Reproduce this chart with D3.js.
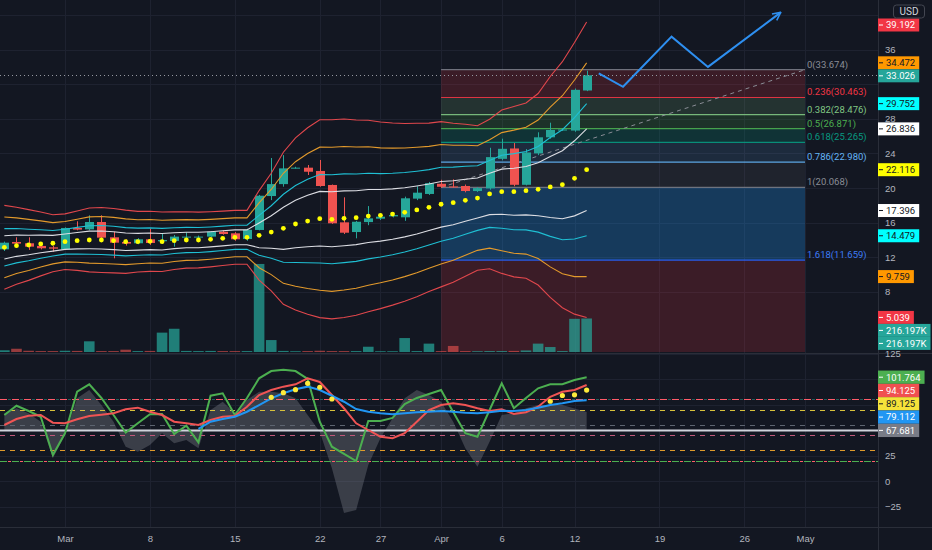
<!doctype html>
<html lang="en">
<head>
<meta charset="utf-8">
<style>
body { margin: 0; background: #131722; }
svg { display: block; font-family: Roboto, "Liberation Sans", sans-serif; }
.tick text { fill: #b2b5be; font-size: 9.5px; }
</style>
</head>
<body>
<svg id="chart" width="932" height="550"></svg>
<script src="https://d3js.org/d3.v7.min.js"></script>
<script>
// ---- data ----
const firstDay = "2021-02-24", lastDay = "2021-04-13";

const open  = [12.91,13.76,13.61,13.30,13.14,12.91,15.38,15.22,16.07,14.30,13.76,13.61,14.07,13.84,13.88,14.26,14.30,14.38,14.95,14.76,14.10,15.15,19.07,20.45,22.30,22.35,21.97,20.35,16.03,14.91,16.06,16.45,16.72,16.61,18.77,19.31,20.49,20.18,20.23,19.65,19.95,23.37,24.57,20.37,24.00,25.86,26.71,26.64,31.27];
const high  = [13.80,14.30,14.30,13.49,13.30,15.45,16.15,16.84,16.84,14.95,14.07,14.20,15.30,14.76,14.57,14.88,14.50,15.00,15.10,14.90,15.30,19.20,23.47,23.80,22.45,22.66,23.24,20.40,18.92,16.20,17.91,17.00,17.00,19.00,20.20,20.70,20.95,21.00,20.40,20.10,24.65,25.70,25.20,24.50,26.44,27.55,26.90,31.50,33.56];
const low   = [12.72,13.14,12.84,12.91,12.64,12.84,15.11,15.11,14.14,11.87,13.34,13.50,13.42,13.53,13.22,13.80,14.10,14.30,14.60,13.90,13.90,15.10,18.60,20.15,22.25,21.50,20.15,15.85,14.68,14.18,15.70,16.30,16.60,16.20,18.60,19.20,20.00,20.05,19.50,19.55,19.80,23.20,20.20,20.30,23.80,25.70,26.60,26.50,31.20];
const close = [13.68,13.57,13.22,13.03,12.99,15.38,15.19,16.07,14.26,13.68,13.57,14.07,13.64,13.99,14.38,14.38,14.38,14.95,14.68,14.07,15.17,19.11,20.45,22.27,22.35,21.88,20.23,15.92,14.83,16.10,16.49,16.68,16.87,18.81,19.46,20.56,20.14,20.14,19.65,19.99,23.57,24.53,20.37,24.11,25.86,26.71,26.76,31.35,33.03];
// volume in thousands
const volume = [11,21,8,6,6,8,7,69,6,6,15,6,7,125,150,7,6,7,6,6,6,568,77,7,5,6,8,6,6,6,34,5,5,90,6,54,6,39,6,5,6,6,7,10,54,32,6,214,216.197];

// band basis (yellow dots) and deviation
const basis = [13.14,13.33,13.41,13.53,13.61,13.79,13.91,13.99,13.99,13.91,13.79,13.79,13.84,13.79,13.91,13.99,13.99,14.07,14.18,14.30,14.30,14.53,14.91,15.34,15.84,16.18,16.45,16.38,16.50,16.57,16.76,16.84,16.99,17.19,17.46,17.77,18.12,18.30,18.58,18.84,19.31,19.57,19.57,19.69,19.85,20.12,20.38,21.12,22.116];
const dev = [1.34,1.23,1.13,1.02,0.91,0.89,0.95,1.02,1.04,1.03,1.01,0.97,0.96,0.95,0.92,0.90,0.89,0.88,0.87,0.86,0.86,1.43,1.88,2.43,2.75,2.98,3.16,3.18,3.17,3.12,3.06,2.98,2.91,2.84,2.77,2.69,2.64,2.54,2.43,2.31,2.39,2.61,2.72,2.80,3.06,3.53,3.93,4.34,4.72];
const bandMult = [1, 1.618, 2.618, 3.618];
const bandColors = ["#dcdde3", "#1fbfd3", "#e39a2c", "#e0474c"];

// fib retracement
const fibStart = "2021-04-01", fibEnd = "2021-05-01";
const fibRatios = ["0", "0.236", "0.382", "0.5", "0.618", "0.786", "1", "1.618"];
const fibPrices = [33.674, 30.463, 28.476, 26.871, 25.265, 22.980, 20.068, 11.659];
const fibLineColors = ["#787b86", "#f23645", "#81c784", "#4caf50", "#089981", "#64b5f6", "#787b86", "#2962ff"];
const fibTextColors = ["#8a8d96", "#f23645", "#81c784", "#4caf50", "#089981", "#64b5f6", "#8a8d96", "#3d7bf5"];
const fibFills = ["rgba(242,54,69,0.18)", "rgba(129,199,132,0.16)", "rgba(76,175,80,0.18)", "rgba(8,153,129,0.22)",
                  "rgba(100,181,246,0.13)", "rgba(120,123,134,0.12)", "rgba(33,150,243,0.28)", "rgba(242,54,69,0.18)"];

// projection arrow
const arrowDates = ["2021-04-14", "2021-04-16", "2021-04-20", "2021-04-23", "2021-04-29"];
const arrowPrices = [33.26, 31.70, 37.50, 34.00, 40.30];

// oscillator pane
const oscGreen = [64.7,73.8,68.6,63,25.5,46.8,87.5,94.8,81.4,64.7,47.4,56.6,65.4,65.7,46.1,54.2,37.9,83.6,86,64.7,81.4,100.7,107.8,109.1,107.8,100,58.1,33.6,26.5,19.6,58.8,58.8,61.8,75.5,81.4,85.3,89.2,67.6,46.8,43.4,69.6,95.8,71.3,81.4,90.9,94.8,94.8,99,101.764];
const oscRed = [54.9,60.8,64,64.7,57.2,56.6,60.5,63.7,65,66.4,70.3,71.9,67.9,64.7,58.1,56.6,54.9,59.8,63,63.7,72.8,84.3,89.2,92.5,94.8,100.7,97.1,84.3,71.3,56.6,50,43.4,41.9,46.8,58.1,69.6,74.5,76.2,74.5,71.3,68.6,70.3,65.7,67.4,72.8,82.6,87.5,89.2,94.125];
const oscBlue = [null,null,null,null,null,null,null,null,null,null,null,null,null,null,null,null,51,58.1,60.8,63,67.9,74.5,81.1,86,89.9,92.5,89.2,83.6,77.7,70.6,67.9,66.4,65.4,66.4,67.4,67.9,68.6,67.9,67,66.4,67.4,68.9,68.6,69.6,71.9,74.5,76.2,78.4,79.112];
const oscGrey = [66.4,71.3,66.4,58.1,22.3,45.1,81.1,89.2,74.5,58.1,33.6,28.7,35.3,46.8,37,40.2,32.1,69.6,77.7,66.4,79.4,87.5,87.5,86,81.1,64.7,48.3,12.4,-31.4,-28.4,15.7,41.9,61.5,81.1,89.2,84.3,77.7,58.1,32.1,14,38.5,64.7,66.4,71.3,74.5,74.5,74.5,71,67.681];
const oscDotIdx = [22, 23, 24, 25, 26, 27, 45, 46, 47, 48];
const oscDotValues = [82, 86.6, 89.5, 95.8, 91.9, 80.4, 78.2, 83.8, 84.5, 89.125];
const oscLevels = [80, 70, 55, 50, 45, 30, 20];
const oscLevelColors = ["#ff5c6a", "#d9c23c", "#5d6470", "#d1d4dc", "#c2587a", "#e09a2b", "#4caf50"];
const oscLevelAlt = ["#1f5e5a", null, null, null, null, null, "#ff5c6a"];

// axis ticks
const priceTicks = [8, 12, 16, 20, 24, 28, 32, 36, 40];
const oscTicks = [-25, 0, 25, 50, 75, 100, 125];
const tickDates = ["2021-03-01","2021-03-08","2021-03-15","2021-03-22","2021-03-27","2021-04-01","2021-04-06","2021-04-12","2021-04-19","2021-04-26","2021-05-01"];
const tickLabels = ["Mar", "8", "15", "22", "27", "Apr", "6", "12", "19", "26", "May"];

// right axis labels
const priceLabelValues = [39.192, 34.472, 33.026, 29.752, 26.836, 22.116, 17.396, 14.479, 9.759, 5.039];
const priceLabelBg = ["#f23645", "#ff9800", "#26a69a", "#00ffff", "#ffffff", "#ffff00", "#ffffff", "#00ffff", "#ff9800", "#f23645"];
const priceLabelFg = ["#ffffff", "#131722", "#ffffff", "#131722", "#131722", "#131722", "#131722", "#131722", "#131722", "#ffffff"];
const volLabelValues = [216.197, 216.197];
const oscLabelValues = [101.764, 94.125, 89.125, 79.112, 67.681];
const oscLabelBg = ["#4caf50", "#f05050", "#f5e23a", "#2196f3", "#787b86"];
const oscLabelFg = ["#ffffff", "#ffffff", "#131722", "#ffffff", "#ffffff"];

// ---- drawing ----
const W = 932, H = 550, plotR = 878;
const mainBottom = 352, oscTop = 354, oscBottom = 527;
const fs = 9.5;
const parse = s => new Date(s);
const dates = d3.utcDay.range(parse(firstDay), d3.utcDay.offset(parse(lastDay), 1));
const crisp = v => Math.round(v) + 0.5;

const x = d3.scaleUtc().domain([parse("2021-02-24"), parse("2021-05-01")]).range([4.35, 805]);
const y = d3.scaleLinear().domain([20, 36]).range([188, 49.6]);
const yVol = d3.scaleLinear().domain([0, 700]).range([mainBottom, 243.5]);
const yOsc = d3.scaleLinear().domain([0, 100]).range([481, 379]);

const svg = d3.select("#chart");
svg.append("rect").attr("width", W).attr("height", H).attr("fill", "#131722");

const defs = svg.append("defs");
defs.append("clipPath").attr("id", "mainClip").append("rect")
  .attr("x", 0).attr("y", 0).attr("width", plotR).attr("height", mainBottom);
defs.append("clipPath").attr("id", "oscClip").append("rect")
  .attr("x", 0).attr("y", oscTop).attr("width", plotR).attr("height", oscBottom - oscTop);
defs.append("marker").attr("id", "arrowHead")
  .attr("viewBox", "0 0 10 10").attr("refX", 9).attr("refY", 5)
  .attr("markerWidth", 5).attr("markerHeight", 5).attr("orient", "auto")
  .append("path").attr("d", "M1,1 L9,5 L1,9").attr("fill", "none")
  .attr("stroke", "#2e8ff0").attr("stroke-width", 1.6);

// grid
const grid = svg.append("g");
grid.selectAll(".vg").data(tickDates).join("line")
  .attr("x1", d => crisp(x(parse(d)))).attr("x2", d => crisp(x(parse(d))))
  .attr("y1", 0).attr("y2", oscBottom)
  .attr("stroke", "#1e2230").attr("stroke-width", 1);
grid.selectAll(".hg").data(priceTicks).join("line")
  .attr("x1", 0).attr("x2", plotR).attr("y1", d => crisp(y(d))).attr("y2", d => crisp(y(d)))
  .attr("stroke", "#1e2230");
grid.selectAll(".og").data(oscTicks).join("line")
  .attr("x1", 0).attr("x2", plotR).attr("y1", d => crisp(yOsc(d))).attr("y2", d => crisp(yOsc(d)))
  .attr("stroke", "#1e2230");

// main pane
const main = svg.append("g").attr("clip-path", "url(#mainClip)");

// fib zones
const fx0 = x(parse(fibStart)), fx1 = x(parse(fibEnd));
fibPrices.forEach((p, i) => {
  const yTop = y(p);
  const yBot = i < fibPrices.length - 1 ? y(fibPrices[i + 1]) : mainBottom;
  main.append("rect").attr("x", fx0).attr("y", yTop).attr("width", fx1 - fx0)
    .attr("height", yBot - yTop).attr("fill", fibFills[i]);
});

// volume
main.selectAll(".vol").data(volume).join("rect")
  .attr("x", (d, i) => x(dates[i]) - 5.3).attr("width", 10.6)
  .attr("y", d => yVol(d)).attr("height", d => Math.max(1, mainBottom - yVol(d)))
  .attr("fill", (d, i) => close[i] >= open[i] ? "rgba(38,166,154,0.72)" : "rgba(239,83,80,0.6)");

// fib lines
fibPrices.forEach((p, i) => {
  main.append("line").attr("x1", fx0).attr("x2", fx1).attr("y1", y(p)).attr("y2", y(p))
    .attr("stroke", fibLineColors[i]).attr("stroke-width", 1.2).attr("opacity", 0.9);
});
// fib trend line
main.append("line")
  .attr("x1", fx0).attr("y1", y(fibPrices[6])).attr("x2", fx1).attr("y2", y(fibPrices[0]))
  .attr("stroke", "#8a8d96").attr("stroke-width", 1).attr("stroke-dasharray", "4,4");

// candles
const cand = main.append("g");
dates.forEach((d, i) => {
  const c = close[i] >= open[i] ? "#26a69a" : "#ef5350";
  const cx = crisp(x(d));
  cand.append("line").attr("x1", cx).attr("x2", cx).attr("y1", y(high[i])).attr("y2", y(low[i]))
    .attr("stroke", c).attr("stroke-width", 1);
  const top = y(Math.max(open[i], close[i])), bot = y(Math.min(open[i], close[i]));
  cand.append("rect").attr("x", cx - 4.5).attr("width", 9)
    .attr("y", top).attr("height", Math.max(1, bot - top)).attr("fill", c);
});

// bands
bandMult.forEach((k, j) => {
  [1, -1].forEach(s => {
    main.append("path").datum(dates)
      .attr("fill", "none").attr("stroke", bandColors[j]).attr("stroke-width", 1.1)
      .attr("d", d3.line().x(d => x(d)).y((d, i) => y(basis[i] + s * k * dev[i])));
  });
});

// basis dots
main.selectAll(".dot").data(basis).join("circle")
  .attr("cx", (d, i) => x(dates[i])).attr("cy", d => y(d)).attr("r", 2.4).attr("fill", "#ffff00");

// current price line
main.append("line").attr("x1", 0).attr("x2", plotR)
  .attr("y1", crisp(y(close[close.length - 1]))).attr("y2", crisp(y(close[close.length - 1])))
  .attr("stroke", "#9598a1").attr("stroke-dasharray", "1,3");

// projection arrow
main.append("path").datum(arrowDates)
  .attr("fill", "none").attr("stroke", "#2e8ff0").attr("stroke-width", 2)
  .attr("marker-end", "url(#arrowHead)")
  .attr("d", d3.line().x(d => x(parse(d))).y((d, i) => y(arrowPrices[i])));

// fib labels
fibPrices.forEach((p, i) => {
  svg.append("text").attr("x", fx1 + 2).attr("y", y(p) - 2)
    .attr("fill", fibTextColors[i]).attr("font-size", fs)
    .text(fibRatios[i] + "(" + p.toFixed(3) + ")");
});

// oscillator pane
const osc = svg.append("g").attr("clip-path", "url(#oscClip)");
osc.append("path").datum(oscGrey)
  .attr("fill", "rgba(150,152,162,0.3)")
  .attr("d", d3.area().x((d, i) => x(dates[i])).y0(yOsc(50)).y1(d => yOsc(d)));

oscLevels.forEach((v, i) => {
  const solid = v === 50;
  const ly = crisp(yOsc(v));
  osc.append("line").attr("x1", 0).attr("x2", plotR).attr("y1", ly).attr("y2", ly)
    .attr("stroke", oscLevelColors[i]).attr("stroke-width", solid ? 2 : 1)
    .attr("stroke-dasharray", solid ? null : (oscLevelAlt[i] ? "7,5" : "5,5"));
  if (oscLevelAlt[i]) {
    osc.append("line").attr("x1", 0).attr("x2", plotR).attr("y1", ly).attr("y2", ly)
      .attr("stroke", oscLevelAlt[i]).attr("stroke-width", 1)
      .attr("stroke-dasharray", "3,9").attr("stroke-dashoffset", -8);
  }
});

const oscLine = arr => d3.line().defined(d => d !== null)
  .x((d, i) => x(dates[i])).y(d => yOsc(d))(arr);
osc.append("path").attr("d", oscLine(oscGreen)).attr("fill", "none").attr("stroke", "#4caf50").attr("stroke-width", 2);
osc.append("path").attr("d", oscLine(oscRed)).attr("fill", "none").attr("stroke", "#f05454").attr("stroke-width", 2);
osc.append("path").attr("d", oscLine(oscBlue)).attr("fill", "none").attr("stroke", "#2196f3").attr("stroke-width", 2);
osc.selectAll(".odot").data(oscDotValues).join("circle")
  .attr("cx", (d, i) => x(dates[oscDotIdx[i]])).attr("cy", d => yOsc(d)).attr("r", 2.6).attr("fill", "#ffeb3b");

// pane borders
svg.append("line").attr("x1", 0).attr("x2", W).attr("y1", 353.5).attr("y2", 353.5).attr("stroke", "#2a2e39");
svg.append("line").attr("x1", 0).attr("x2", W).attr("y1", oscBottom + 0.5).attr("y2", oscBottom + 0.5).attr("stroke", "#2a2e39");
svg.append("line").attr("x1", plotR + 0.5).attr("x2", plotR + 0.5).attr("y1", 0).attr("y2", H).attr("stroke", "#2a2e39");

// axes
const ax1 = svg.append("g").attr("transform", `translate(${plotR},0)`)
  .call(d3.axisRight(y).tickValues(priceTicks).tickSize(0).tickPadding(7).tickFormat(d3.format("d")));
const ax2 = svg.append("g").attr("transform", `translate(${plotR},0)`)
  .call(d3.axisRight(yOsc).tickValues(oscTicks).tickSize(0).tickPadding(7).tickFormat(d => d < 0 ? "\u2212" + (-d) : d));
const ax3 = svg.append("g").attr("transform", `translate(0,${oscBottom})`)
  .call(d3.axisBottom(x).tickValues(tickDates.map(parse)).tickSize(0).tickPadding(8)
    .tickFormat((d, i) => tickLabels[i]));
[ax1, ax2, ax3].forEach(a => { a.select(".domain").remove(); a.selectAll("text").attr("font-family", null); });

// right axis labels with push-down stacking
const usdBox = [4.5, 17.5];
const covered = [usdBox];
function stackLabels(list, h, minTop) {
  let prevBottom = minTop;
  list.sort((a, b) => a.y - b.y).forEach(d => {
    const hh = d.sub ? 24 : h;
    const top = Math.max(d.y - h / 2, prevBottom);
    prevBottom = top + hh;
    covered.push([top, top + hh]);
    const g = svg.append("g");
    const rect = g.append("rect").attr("x", plotR).attr("y", top).attr("height", hh).attr("fill", d.bg);
    g.append("line").attr("x1", plotR + 1).attr("x2", plotR + 5)
      .attr("y1", top + h / 2).attr("y2", top + h / 2).attr("stroke", d.fg);
    const t = g.append("text").attr("x", plotR + 8).attr("y", top + h / 2).attr("dy", "0.35em")
      .attr("font-size", fs).attr("fill", d.fg).text(d.text);
    let w = t.node().getComputedTextLength();
    if (d.sub) {
      const t2 = g.append("text").attr("x", plotR + 8).attr("y", top + h / 2 + 11).attr("dy", "0.35em")
        .attr("font-size", fs).attr("fill", d.fg).text(d.sub);
      w = Math.max(w, t2.node().getComputedTextLength());
    }
    rect.attr("width", Math.min(w + 12, W - plotR));
  });
}

const mainLabels = priceLabelValues.map((v, i) => ({
  y: y(v), text: v.toFixed(3), bg: priceLabelBg[i], fg: priceLabelFg[i],
  sub: v === close[close.length - 1] ? "12:47:56" : null
}));
volLabelValues.forEach(v => mainLabels.push({ y: yVol(v), text: v.toFixed(3) + "K", bg: "#26a69a", fg: "#ffffff" }));
stackLabels(mainLabels, 13, usdBox[1] + 1);

const oscLabels = oscLabelValues.map((v, i) => ({ y: yOsc(v), text: v.toFixed(3), bg: oscLabelBg[i], fg: oscLabelFg[i] }));
stackLabels(oscLabels, 13.3, oscTop);

// axis numbers hidden under a label box are dropped
[ax1, ax2].forEach(a => a.selectAll(".tick").each(function(d) {
  const ty = (a === ax1 ? y : yOsc)(d);
  if (covered.some(c => ty + 3 > c[0] && ty - 3 < c[1])) d3.select(this).remove();
}));

// currency box
svg.append("rect").attr("x", 893.5).attr("y", usdBox[0] + 0.5).attr("width", 31).attr("height", usdBox[1] - usdBox[0])
  .attr("rx", 3).attr("fill", "#131722").attr("stroke", "#434651");
svg.append("text").attr("x", 909).attr("y", (usdBox[0] + usdBox[1]) / 2 + 0.5).attr("dy", "0.35em")
  .attr("text-anchor", "middle").attr("font-size", fs + 0.5).attr("fill", "#d1d4dc").text("USD");
</script>
</body>
</html>
